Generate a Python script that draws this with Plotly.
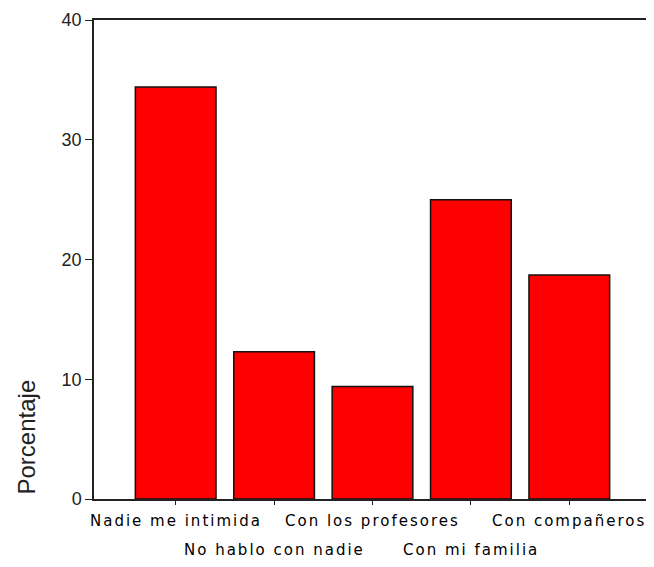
import plotly.graph_objects as go

categories = ["Nadie me intimida", "No hablo con nadie", "Con los profesores",
              "Con mi familia", "Con compañeros"]
porcentaje = [34.4, 12.3, 9.4, 25.0, 18.7]
y_ticks = [0, 10, 20, 30, 40]
y_title = "Porcentaje"

# page body has an 8px margin -> figure drawn 8px smaller/shifted
OFF = 8
W, H = 654 - OFF, 567 - OFF
L, R, T, B = 94 - OFF, 2, 18 - OFF, 68
ph = H - T - B
pw = W - L - R

def py(pix):
    return ((H - B) - (pix - OFF)) / ph

def px(pix):
    return ((pix - OFF) - L) / pw

fig = go.Figure()
fig.add_trace(go.Bar(
    x=categories, y=porcentaje,
    marker=dict(color="#FF0000", line=dict(color="#111111", width=1.5)),
    hoverinfo="x+y",
))

rows = [521, 550]
for i, c in enumerate(categories):
    fig.add_annotation(
        x=c, xref="x", y=py(rows[i % 2]), yref="paper",
        text=f'<span style="letter-spacing:2px">{c}</span>',
        showarrow=False, xanchor="center", yanchor="middle",
        font=dict(family="DejaVu Sans", size=15, color="#000000"),
    )

fig.add_annotation(
    x=px(26), xref="paper", y=py(437), yref="paper", text=y_title,
    textangle=-90, showarrow=False, xanchor="center", yanchor="middle",
    font=dict(family="Liberation Sans, Arial", size=24, color="#222222"),
)

fig.update_layout(
    width=W, height=H,
    margin=dict(l=L, r=R, t=T, b=B, pad=0),
    plot_bgcolor="white", paper_bgcolor="white",
    bargap=0.18, showlegend=False,
    xaxis=dict(
        type="category", range=[-0.83, 4.82],
        showline=True, linecolor="#222222", linewidth=1.5, mirror=True,
        ticks="outside", ticklen=4, tickcolor="#222222", tickwidth=1,
        showticklabels=False, showgrid=False, zeroline=False,
    ),
    yaxis=dict(
        range=[0, 40], tickvals=y_ticks,
        showline=True, linecolor="#222222", linewidth=1.5, mirror=True,
        ticks="outside", ticklen=7, tickcolor="#222222", tickwidth=1,
        tickfont=dict(family="Liberation Sans, Arial", size=18, color="#222222"),
        showgrid=False, zeroline=False,
    ),
)

fig.write_html("out.html")
